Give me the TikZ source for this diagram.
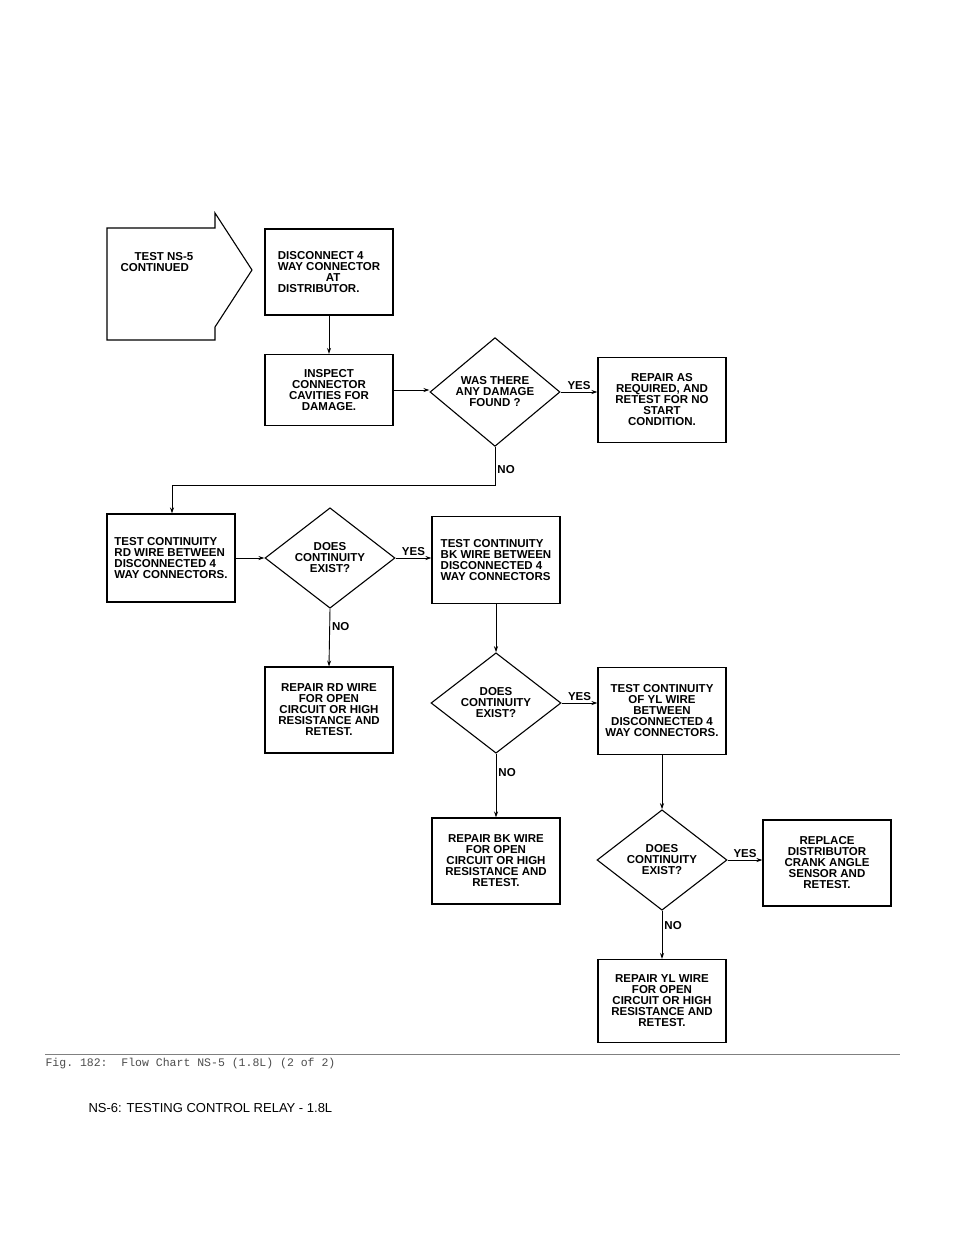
\documentclass[tikz,border=0pt]{standalone}
\usepackage{fontspec}
\setmainfont{Liberation Sans}
\setmonofont{Liberation Mono}
\usetikzlibrary{arrows.meta,shapes.geometric}
\begin{document}
\begin{tikzpicture}[x=1pt,y=-1pt,line width=1.1pt,
 fc/.style={font=\fontsize{11.5}{11}\selectfont\bfseries},
 bx/.style={draw,fc,minimum width=128pt,inner sep=2pt,align=center},
 dm/.style={draw,fc,diamond,minimum width=130pt,minimum height=96pt,inner sep=0pt,align=center},
 ar/.style={-{Stealth[length=6pt,width=4pt]},line width=0.9pt},
 lb/.style={fc,inner sep=2pt}]
\useasboundingbox (0,0) rectangle (960,1242);
\fill[white] (0,0) rectangle (960,1242);
% arrow shape
\draw (107,228) -- (215,228) -- (215,213) -- (252,270) -- (215,327) -- (215,340) -- (107,340) -- cycle;
\node[fc,align=left] (start) at (157,262) {\hspace*{14pt}TEST NS-5\\CONTINUED};
\node[bx,minimum height=86pt,align=left] (b1) at (329,272) {DISCONNECT 4\\WAY CONNECTOR\\\hspace*{48pt}AT\\DISTRIBUTOR.};
\node[bx,minimum height=71pt] (b2) at (329,390) {INSPECT\\CONNECTOR\\CAVITIES FOR\\DAMAGE.};
\node[dm] (d1) at (495,392) {WAS THERE\\ANY DAMAGE\\FOUND ?};
\node[bx,minimum height=85pt] (r1) at (662,400) {REPAIR AS\\REQUIRED, AND\\RETEST FOR NO\\START\\CONDITION.};
\node[bx,minimum height=88pt,align=left] (t1) at (171,558) {TEST CONTINUITY\\RD WIRE BETWEEN\\DISCONNECTED 4\\WAY CONNECTORS.};
\node[dm] (d2) at (330,558) {DOES\\CONTINUITY\\EXIST?};
\node[bx,minimum height=87pt,align=left] (t2) at (496,560) {TEST CONTINUITY\\BK WIRE BETWEEN\\DISCONNECTED 4\\WAY CONNECTORS};
\node[bx,minimum height=86pt] (r2) at (329,710) {REPAIR RD WIRE\\FOR OPEN\\CIRCUIT OR HIGH\\RESISTANCE AND\\RETEST.};
\node[dm] (d3) at (496,703) {DOES\\CONTINUITY\\EXIST?};
\node[bx,minimum height=87pt] (t3) at (662,711) {TEST CONTINUITY\\OF YL WIRE\\BETWEEN\\DISCONNECTED 4\\WAY CONNECTORS.};
\node[bx,minimum height=86pt] (r3) at (496,861) {REPAIR BK WIRE\\FOR OPEN\\CIRCUIT OR HIGH\\RESISTANCE AND\\RETEST.};
\node[dm] (d4) at (662,860) {DOES\\CONTINUITY\\EXIST?};
\node[bx,minimum height=86pt] (r4) at (827,863) {REPLACE\\DISTRIBUTOR\\CRANK ANGLE\\SENSOR AND\\RETEST.};
\node[bx,minimum height=83pt] (r5) at (662,1001) {REPAIR YL WIRE\\FOR OPEN\\CIRCUIT OR HIGH\\RESISTANCE AND\\RETEST.};
% connectors
\draw[ar] (b1.south) -- (b2.north);
\draw[ar] (b2.east) -- (b2.east -| d1.west);
\draw[ar] (d1.east) -- node[lb,above]{YES} (d1.east -| r1.west);
\coordinate (k1) at (495,485); \coordinate (k2) at (172,485);
\draw[ar] (d1.south) -- node[lb,right,pos=0.6]{NO} (k1) -- (k2) -- (k2 |- t1.north);
\draw[ar] (d2.west -| t1.east) -- (d2.west);
\draw[ar] (d2.east) -- node[lb,above]{YES} (d2.east -| t2.west);
\draw[ar] (d2.south) -- node[lb,right,pos=0.3]{NO} (r2.north);
\draw[ar] (t2.south) -- (d3.north);
\draw[ar] (d3.east) -- node[lb,above]{YES} (d3.east -| t3.west);
\draw[ar] (d3.south) -- node[lb,right,pos=0.3]{NO} (r3.north);
\draw[ar] (t3.south) -- (d4.north);
\draw[ar] (d4.east) -- node[lb,above]{YES} (d4.east -| r4.west);
\draw[ar] (d4.south) -- node[lb,right,pos=0.3]{NO} (r5.north);
% caption
\draw[line width=0.5pt,gray] (45,1054) -- (900,1054);
\node[anchor=west,inner sep=0,font=\ttfamily\fontsize{11.5}{12}\selectfont,text=black!70] (cap) at (45,1064) {Fig. 182:\ \ Flow Chart NS-5 (1.8L) (2 of 2)};
\node[anchor=west,inner sep=0,font=\fontsize{13}{14}\selectfont] (ttl) at (88,1108) {NS-6: TESTING CONTROL RELAY - 1.8L};
\end{tikzpicture}
\end{document}
